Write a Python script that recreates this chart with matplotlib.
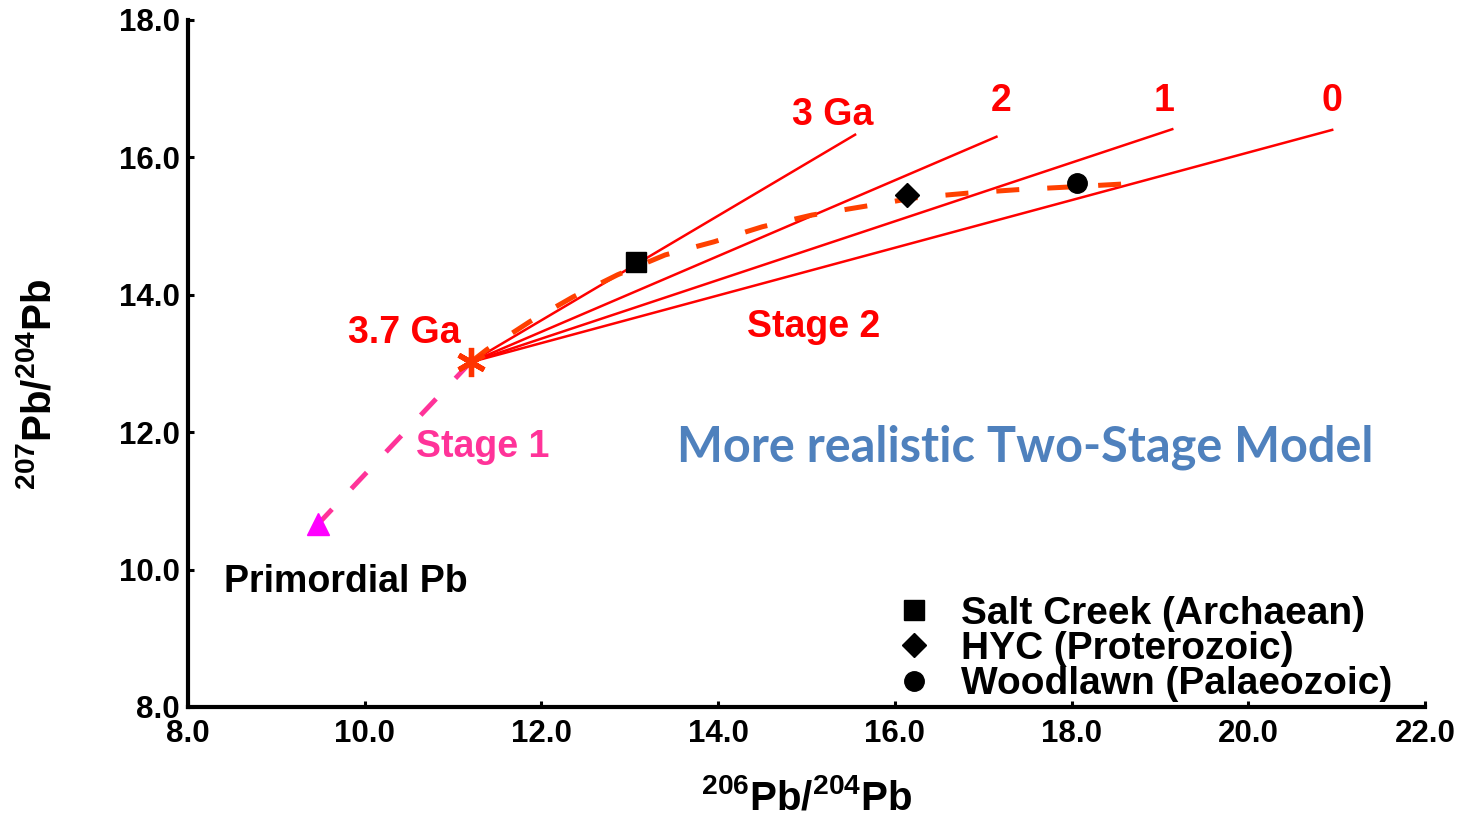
import numpy as np
import matplotlib
matplotlib.use('Agg')
import matplotlib.pyplot as plt

plt.rcParams['font.family'] = ['Liberation Sans', 'DejaVu Sans']
plt.rcParams['font.weight'] = 'bold'
plt.rcParams['mathtext.fontset'] = 'custom'
plt.rcParams['mathtext.rm'] = 'Liberation Sans:bold'
plt.rcParams['mathtext.bf'] = 'Liberation Sans:bold'
plt.rcParams['mathtext.it'] = 'Liberation Sans:bold'
plt.rcParams['mathtext.default'] = 'rm'

# model points
primordial = (9.47, 10.66)
stage_start = (11.2, 13.02)  # 3.7 Ga

# isochrons (end points) and their ages
iso_labels = ['3 Ga', '2', '1', '0']
iso_end_x = [15.55, 17.15, 19.14, 20.95]
iso_end_y = [16.33, 16.30, 16.41, 16.40]
iso_label_x = [15.3, 17.2, 19.05, 20.95]
iso_label_y = [16.62, 16.82, 16.82, 16.82]

# stage 2 growth curve
growth_x = [11.2, 11.38, 11.87, 12.36, 12.86, 13.4, 13.95, 14.5, 15.06,
            15.67, 16.22, 16.83, 17.39, 17.99, 18.55, 18.7]
growth_y = [13.02, 13.2, 13.61, 13.97, 14.29, 14.58, 14.77, 14.99, 15.16,
            15.29, 15.41, 15.48, 15.53, 15.57, 15.61, 15.63]

# ore deposits
deposits = ['Salt Creek (Archaean)', 'HYC (Proterozoic)', 'Woodlawn (Palaeozoic)']
dep_x = [13.07, 16.14, 18.06]
dep_y = [14.48, 15.45, 15.63]
dep_markers = ['s', 'D', 'o']
dep_sizes = [14, 12.5, 14]

fig = plt.figure(figsize=(14.63, 8.18), dpi=100)
ax = fig.add_axes([0.1285, 0.1357, 0.8455, 0.8399])

# stage 1
ax.plot([stage_start[0], primordial[0]], [stage_start[1], primordial[1]],
        color='#FF3399', lw=3.5, dashes=(4.6, 5.8), solid_capstyle='butt')
ax.plot(primordial[0], primordial[1], marker='^', ms=16, color='#FF00FF', ls='none')

# isochrons
for ex, ey in zip(iso_end_x, iso_end_y):
    ax.plot([stage_start[0], ex], [stage_start[1], ey], color='#FF0000', lw=1.8)
for lab, lx, ly in zip(iso_labels, iso_label_x, iso_label_y):
    ax.text(lx, ly, lab, color='#FF0000', fontsize=27, ha='center', va='center')

# growth curve
ax.plot(growth_x, growth_y, color='#FF4000', lw=3.6, dashes=(4.6, 5.6))
ax.plot(stage_start[0], stage_start[1], marker=(6, 2, 0), ms=21, mew=3.8,
        color='#FF3300', ls='none')

for name, x, y, m, s in zip(deposits, dep_x, dep_y, dep_markers, dep_sizes):
    ax.plot(x, y, marker=m, ms=s, color='black', ls='none', label=name)

ax.text(10.45, 13.44, '3.7 Ga', color='#FF0000', fontsize=27, ha='center', va='center')
ax.text(15.08, 13.53, 'Stage 2', color='#FF0000', fontsize=27, ha='center', va='center')
ax.text(11.34, 11.78, 'Stage 1', color='#FF3399', fontsize=27, ha='center', va='center')
ax.text(9.79, 9.82, 'Primordial Pb', color='black', fontsize=27, ha='center', va='center')
ax.text(17.48, 11.78, 'More realistic Two-Stage Model', color='#4F81BD', fontsize=35,
        family='Lato', weight='bold', ha='center', va='center')

ax.legend(loc='lower left', bbox_to_anchor=(0.5776, 0.007), frameon=False,
          fontsize=28, handlelength=0.6, handletextpad=0.9, labelspacing=-0.02,
          borderpad=0, borderaxespad=0)

ax.set_xlim(8, 22)
ax.set_ylim(8, 18)
ax.set_xticks(np.arange(8, 22.1, 2))
ax.set_yticks(np.arange(8, 18.1, 2))
ax.xaxis.set_major_formatter('{x:.1f}')
ax.yaxis.set_major_formatter('{x:.1f}')
ax.tick_params(direction='in', length=4.5, width=2.2, labelsize=22.5)
ax.tick_params(axis='x', pad=9)
ax.tick_params(axis='y', pad=6)
for side in ['top', 'right']:
    ax.spines[side].set_visible(False)
for side in ['left', 'bottom']:
    ax.spines[side].set_linewidth(3)

ax.set_xlabel(r'$^{206}\mathrm{Pb/}^{204}\mathrm{Pb}$', fontsize=29, labelpad=21)
ax.set_ylabel(r'$^{207}\mathrm{Pb/}^{204}\mathrm{Pb}$', fontsize=29)
ax.yaxis.set_label_coords(-0.105, 0.47)

fig.savefig('out.png', dpi=100)
